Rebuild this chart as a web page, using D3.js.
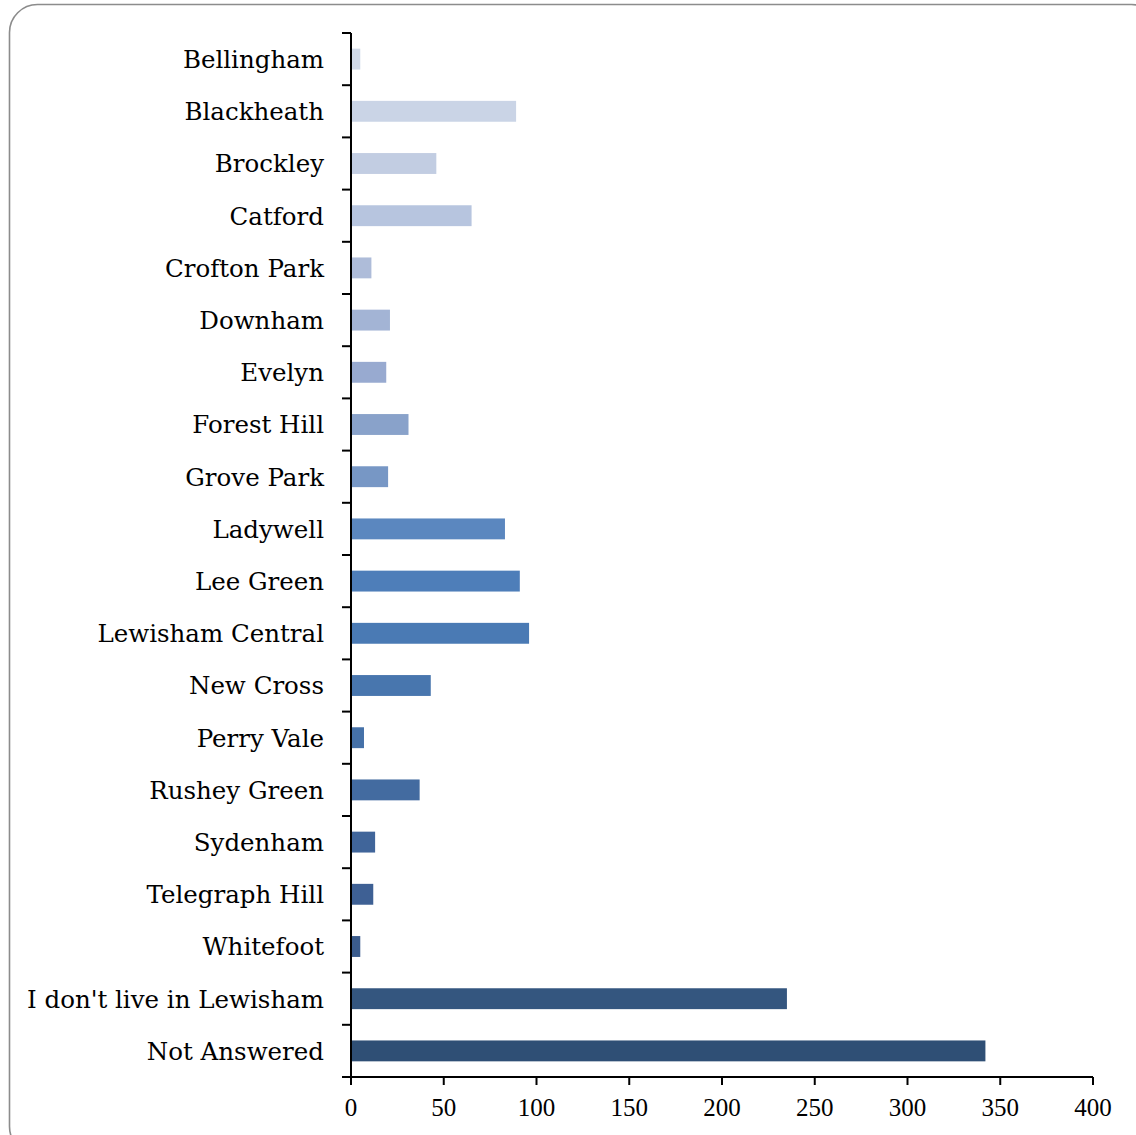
<!DOCTYPE html>
<html><head><meta charset="utf-8">
<script src="https://cdn.jsdelivr.net/npm/d3@7"></script>
<style>body{margin:0;background:#fff}svg{display:block}</style>
</head><body>
<script>
const categories = ["Bellingham","Blackheath","Brockley","Catford","Crofton Park","Downham","Evelyn","Forest Hill","Grove Park","Ladywell","Lee Green","Lewisham Central","New Cross","Perry Vale","Rushey Green","Sydenham","Telegraph Hill","Whitefoot","I don't live in Lewisham","Not Answered"];
const values = [5,89,46,65,11,21,19,31,20,83,91,96,43,7,37,13,12,5,235,342];
const colors = ["#d0d9e8","#cad4e6","#c2cde2","#b7c5df","#aebcd9","#a3b4d5","#98aad0","#89a2ca","#7797c5","#5b87bf","#4e7eb9","#4a7ab4","#4876ae","#4571a8","#436ba0","#40659a","#3e6094","#3b5c8d","#34567f","#2f4f75"];
const xTicks = [0,50,100,150,200,250,300,350,400];

(function(){
const W = 1136, H = 1135;
const svg = d3.select("body").append("svg").attr("width", W).attr("height", H);
svg.append("rect").attr("x",9.5).attr("y",4.5).attr("width",1150).attr("height",1150)
  .attr("rx",28).attr("fill","#fff").attr("stroke","#8c8c8c").attr("stroke-width",1.6);

const mLeft = 351, mRight = 1093, mTop = 33, mBottom = 1077;
const x = d3.scaleLinear().domain([0,400]).range([mLeft,mRight]);
const y = d3.scaleBand().domain(categories).range([mTop,mBottom]).paddingInner(0.6).paddingOuter(0.3);
const yb = d3.scaleBand().domain(categories).range([mTop,mBottom]);

svg.selectAll("rect.bar").data(categories).join("rect").attr("class","bar")
  .attr("x", x(0)).attr("y", d => y(d)).attr("height", y.bandwidth())
  .attr("width", (d,i) => x(values[i]) - x(0)).attr("fill", (d,i) => colors[i]);

const g = svg.append("g").attr("stroke","#000").attr("stroke-width",2);
g.append("line").attr("x1",mLeft).attr("x2",mLeft).attr("y1",mTop).attr("y2",mBottom);
const bounds = categories.map(c => yb(c)).concat([mBottom]);
g.selectAll("line.yt").data(bounds).join("line").attr("class","yt")
  .attr("x1",mLeft-9).attr("x2",mLeft).attr("y1",d=>d).attr("y2",d=>d);
g.append("line").attr("x1",mLeft-9).attr("x2",mRight).attr("y1",mBottom).attr("y2",mBottom);
g.selectAll("line.xt").data(xTicks).join("line").attr("class","xt")
  .attr("x1",d=>x(d)).attr("x2",d=>x(d)).attr("y1",mBottom).attr("y2",mBottom+8);

svg.selectAll("text.cat").data(categories).join("text").attr("class","cat")
  .attr("x", 324).attr("y", d => yb(d) + yb.bandwidth()/2).attr("dy","0.36em")
  .attr("text-anchor","end").attr("font-family","'DejaVu Serif', serif").attr("font-size",24.5).attr("fill","#000")
  .text(d => d);
svg.selectAll("text.xl").data(xTicks).join("text").attr("class","xl")
  .attr("x", d => x(d)).attr("y", 1116).attr("text-anchor","middle")
  .attr("font-family","'Liberation Serif', serif").attr("font-size",25).attr("fill","#000").text(d => d);
})();
</script>
</body></html>
